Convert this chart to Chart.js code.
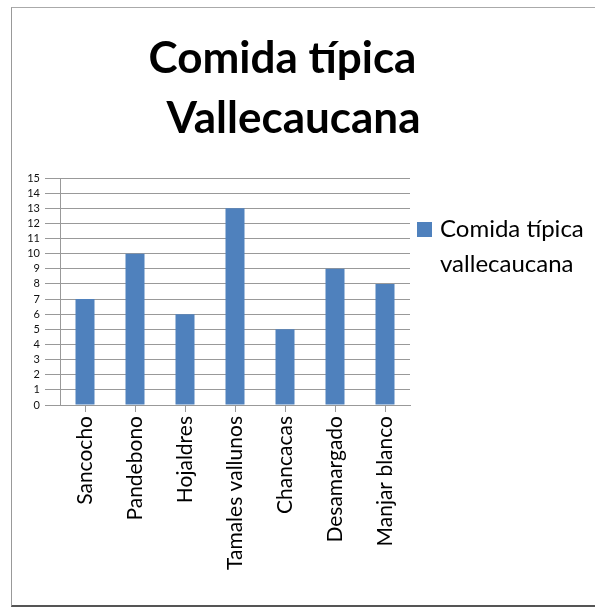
<!DOCTYPE html>
<html>
<head>
<meta charset="utf-8">
<script src="https://cdn.jsdelivr.net/npm/chart.js@4.4.1/dist/chart.umd.min.js"></script>
<style>
  html, body { margin: 0; padding: 0; background: #fff; }
  #wrap { position: relative; width: 595px; height: 613px; overflow: hidden; font-family: Lato, "Open Sans", sans-serif; }
  #frame {
    position: absolute; left: 11px; top: 7px; width: 620px; height: 597px;
    border-left: 1px solid #999; border-top: 1px solid #aaa; border-bottom: 2px solid #555;
  }
  canvas { position: absolute; left: 0; top: 0; }
  .title { position: absolute; left: 0; width: 100%; text-align: center; font-weight: bold; font-size: 44px; line-height: 60px; color: #000; }
  #legend { position: absolute; left: 417px; top: 210px; font-size: 24px; line-height: 35px; color: #000; }
  #legend .box { position: absolute; left: 0; top: 12px; width: 15px; height: 15px; }
  #legend .txt { position: absolute; left: 23px; top: 0; white-space: nowrap; }
</style>
</head>
<body>
<div id="wrap">
  <div id="frame"></div>
  <canvas id="chart" width="595" height="613"></canvas>
  <div class="title" style="top:26px; margin-left:-15px;">Comida típica</div>
  <div class="title" style="top:86px; margin-left:-4px;">Vallecaucana</div>
  <div id="legend"></div>
</div>
<script>
// datos
const categorias = ['Sancocho', 'Pandebono', 'Hojaldres', 'Tamales vallunos', 'Chancacas', 'Desamargado', 'Manjar blanco'];
const valores = [7, 10, 6, 13, 5, 9, 8];
const serieNombre = ['Comida típica', 'vallecaucana'];
const colorBarra = '#4F81BD';
const gris = '#999999';

// leyenda en HTML
const leg = document.getElementById('legend');
leg.innerHTML = '<div class="box" style="background:' + colorBarra + '"></div>' +
  '<div class="txt">' + serieNombre.join('<br>') + '</div>';

new Chart(document.getElementById('chart'), {
  type: 'bar',
  data: {
    labels: categorias,
    datasets: [{
      label: serieNombre.join(' '),
      data: valores,
      backgroundColor: colorBarra,
      borderWidth: 0,
      categoryPercentage: 1,
      barPercentage: 0.38
    }]
  },
  options: {
    responsive: false,
    animation: false,
    layout: { padding: { top: 178, right: 185, left: 0, bottom: 0 } },
    plugins: {
      legend: { display: false },
      title: { display: false },
      tooltip: { enabled: false }
    },
    scales: {
      x: {
        afterFit: s => { s.height = 208; },
        grid: { offset: false, drawOnChartArea: false, color: gris, tickLength: 7 },
        border: { color: gris },
        ticks: {
          minRotation: 90, maxRotation: 90, padding: 4, autoSkip: false,
          color: '#000', font: { family: 'Lato', size: 21 }
        }
      },
      y: {
        min: 0, max: 15,
        afterFit: s => { s.width = 60; },
        grid: { color: gris, tickLength: 15 },
        border: { color: gris },
        ticks: {
          stepSize: 1, padding: 5, color: '#111', autoSkip: false,
          font: { family: 'Lato', size: 11 }
        }
      }
    }
  }
});
</script>
</body>
</html>
